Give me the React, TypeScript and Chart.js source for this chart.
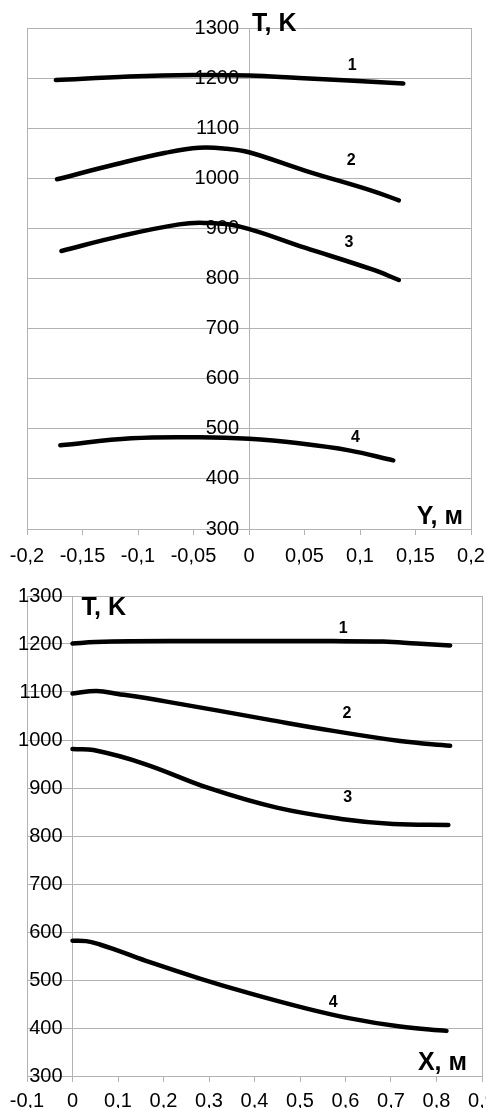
import React, { useEffect, useRef } from 'react';
import { Chart, registerables } from 'chart.js';

Chart.register(...registerables);

const FONT = '"Liberation Sans", Arial, sans-serif';
const GRID = '#b3b3b3';

// ---- Chart 1: T(Y) ----
const yPos1 = [-0.174, -0.108, -0.05, 0, 0.045, 0.09, 0.139];
const tempY1 = [1196, 1203, 1206, 1205, 1200, 1195, 1189];
const yPos2 = [-0.173, -0.12, -0.075, -0.045, -0.02, 0, 0.051, 0.111, 0.135];
const tempY2 = [998, 1028, 1051, 1061, 1059, 1052, 1015, 975, 956];
const yPos3 = [-0.169, -0.115, -0.063, -0.04, -0.009, 0.051, 0.111, 0.135];
const tempY3 = [855, 885, 908, 911, 904, 861, 818, 797];
const yPos4 = [-0.17, -0.106, -0.045, 0, 0.045, 0.09, 0.13];
const tempY4 = [467, 481, 483, 480, 471, 457, 437];
const curveNamesY = ['1', '2', '3', '4'];
const curveLabelYPosX = [0.093, 0.092, 0.09, 0.096];
const curveLabelYPosT = [1224, 1035, 871, 483];

// ---- Chart 2: T(X) ----
const xPos1 = [0, 0.05, 0.214, 0.573, 0.683, 0.756, 0.83];
const tempX1 = [1201, 1204, 1206, 1206, 1205, 1201, 1197];
const xPos2 = [0, 0.053, 0.1, 0.207, 0.427, 0.573, 0.72, 0.83];
const tempX2 = [1097, 1102, 1096, 1080, 1043, 1019, 998, 988];
const xPos3 = [0, 0.046, 0.156, 0.302, 0.449, 0.595, 0.705, 0.826];
const tempX3 = [981, 979, 951, 899, 859, 835, 825, 823];
const xPos4 = [0, 0.03, 0.06, 0.1, 0.17, 0.28, 0.39, 0.5, 0.61, 0.72, 0.822];
const tempX4 = [582, 581, 574, 561, 537, 503, 472, 444, 420, 403, 394];
const curveNamesX = ['1', '2', '3', '4'];
const curveLabelXPosX = [0.595, 0.603, 0.605, 0.573];
const curveLabelXPosT = [1233, 1056, 879, 452];

const fmt = (v: number) => {
  const r = Math.round(v * 100) / 100;
  return String(r).replace('.', ',');
};

const annotPlugin = {
  id: 'annot',
  afterDatasetsDraw(chart: any, _args: any, opts: any) {
    const { ctx, chartArea } = chart;
    const xs = chart.scales.x;
    const ys = chart.scales.y;
    ctx.save();
    ctx.fillStyle = '#000';
    ctx.font = `bold 16px ${FONT}`;
    ctx.textAlign = 'center';
    ctx.textBaseline = 'middle';
    opts.names.forEach((t: string, i: number) => {
      ctx.fillText(t, xs.getPixelForValue(opts.lx[i]), ys.getPixelForValue(opts.ly[i]));
    });
    ctx.font = `bold 25px ${FONT}`;
    ctx.textBaseline = 'alphabetic';
    ctx.textAlign = 'left';
    ctx.fillText(opts.yTitle, xs.getPixelForValue(0) + opts.yTitleDx, chartArea.top + opts.yTitleDy);
    ctx.textAlign = 'right';
    ctx.fillText(opts.xTitle, chartArea.right - opts.xTitleDx, chartArea.bottom - opts.xTitleDy);
    ctx.restore();
  },
};

function mkDatasets(xsArr: number[][], tsArr: number[][]) {
  return xsArr.map((xa, k) => ({
    label: String(k + 1),
    data: xa.map((x, i) => ({ x, y: tsArr[k][i] })),
    borderColor: '#000',
    backgroundColor: '#000',
    borderWidth: 4.5,
    pointRadius: 0,
    tension: 0.4,
    borderCapStyle: 'round' as const,
    borderJoinStyle: 'round' as const,
    fill: false,
  }));
}

const noPad = (scale: any) => {
  scale.paddingLeft = 0;
  scale.paddingRight = 0;
  scale.paddingTop = 0;
  scale.paddingBottom = 0;
};

function makeConfig(p: any) {
  return {
    type: 'line' as const,
    data: { datasets: mkDatasets(p.xs, p.ts) },
    plugins: [annotPlugin],
    options: {
      animation: false as const,
      responsive: false,
      maintainAspectRatio: false,
      layout: { padding: p.padding },
      plugins: {
        legend: { display: false },
        tooltip: { enabled: false },
        annot: p.annot,
      },
      scales: {
        x: {
          type: 'linear' as const,
          position: { y: 300 },
          min: p.xMin,
          max: p.xMax,
          afterFit: noPad,
          ticks: {
            stepSize: p.xStep,
            autoSkip: false,
            maxRotation: 0,
            minRotation: 0,
            color: '#000',
            padding: p.xPad,
            font: { family: FONT, size: 20 },
            callback: (v: any) => fmt(Number(v)),
          },
          grid: {
            color: (c: any) => {
              const v = c.tick ? c.tick.value : NaN;
              return Math.abs(v - p.xMin) < 1e-9 || Math.abs(v - p.xMax) < 1e-9 ? GRID : 'rgba(0,0,0,0)';
            },
            tickColor: GRID,
            tickLength: 5,
            lineWidth: 1,
          },
          border: { display: true, color: GRID },
        },
        y: {
          type: 'linear' as const,
          position: { x: 0 },
          min: 300,
          max: 1300,
          afterFit: noPad,
          ticks: {
            stepSize: 100,
            color: '#000',
            font: { family: FONT, size: 20 },
            callback: (v: any) => String(Math.round(Number(v))) + p.yGap,
          },
          grid: { color: GRID, drawTicks: false, lineWidth: 1 },
          border: { display: true, color: GRID },
        },
      },
    },
  };
}

function ChartCanvas({ cfg, top, height }: { cfg: any; top: number; height: number }) {
  const ref = useRef<HTMLCanvasElement | null>(null);
  useEffect(() => {
    if (!ref.current) return;
    const ch = new Chart(ref.current, cfg);
    return () => ch.destroy();
  }, [cfg]);
  return (
    <canvas
      ref={ref}
      width={486}
      height={height}
      style={{ position: 'absolute', left: 0, top, width: 486, height }}
    />
  );
}

const cfgTop = makeConfig({
  xs: [yPos1, yPos2, yPos3, yPos4],
  ts: [tempY1, tempY2, tempY3, tempY4],
  xMin: -0.2,
  xMax: 0.2,
  xStep: 0.05,
  xPad: 10,
  yGap: '\u2002',
  padding: { left: 27, right: 15, top: 28, bottom: 36 },
  annot: {
    names: curveNamesY,
    lx: curveLabelYPosX,
    ly: curveLabelYPosT,
    yTitle: 'T, K',
    xTitle: 'Y, м',
    yTitleDx: 3,
    yTitleDy: 3,
    xTitleDx: 8,
    xTitleDy: 5,
  },
});

const cfgBottom = makeConfig({
  xs: [xPos1, xPos2, xPos3, xPos4],
  ts: [tempX1, tempX2, tempX3, tempX4],
  xMin: -0.1,
  xMax: 0.9,
  xStep: 0.1,
  xPad: 8,
  yGap: '\u2002',
  padding: { left: 27, right: 4, top: 31, bottom: 32 },
  annot: {
    names: curveNamesX,
    lx: curveLabelXPosX,
    ly: curveLabelXPosT,
    yTitle: 'T, K',
    xTitle: 'X, м',
    yTitleDx: 9,
    yTitleDy: 19,
    xTitleDx: 15,
    xTitleDy: 6,
  },
});

export default function App() {
  return (
    <div style={{ position: 'absolute', left: 0, top: 0, width: 486, height: 1108, background: '#fff' }}>
      <ChartCanvas cfg={cfgTop} top={0} height={565} />
      <ChartCanvas cfg={cfgBottom} top={565} height={543} />
    </div>
  );
}
